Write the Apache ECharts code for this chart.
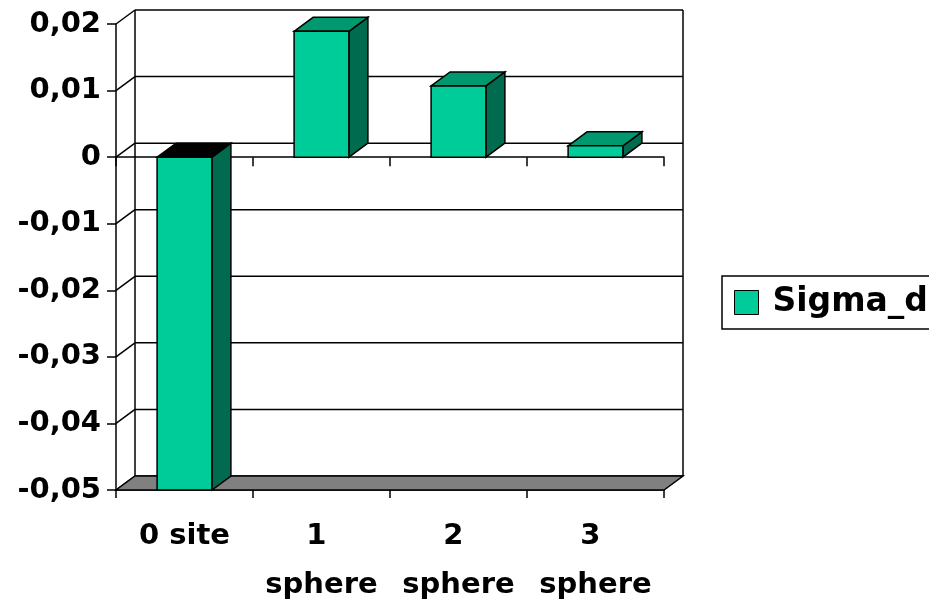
<!DOCTYPE html>
<html>
<head>
<meta charset="utf-8">
<script src="https://cdn.jsdelivr.net/npm/echarts@6/dist/echarts.min.js"></script>
<style>
  html, body { margin: 0; padding: 0; background: #ffffff; }
  #chart { width: 929px; height: 603px; }
</style>
</head>
<body>
<div id="chart"></div>
<script>
// Categories along the front edge of the 3D floor
const categories = ['0 site', '1 sphere', '2 sphere', '3 sphere'];
// Sigma_d per category
const sigmaD = [-0.05, 0.0189, 0.0107, 0.0017];
// Value-axis ticks (also the back-wall gridlines)
const yTicks = [-0.05, -0.04, -0.03, -0.02, -0.01, 0, 0.01, 0.02];
const seriesName = 'Sigma_d';

// Depth of the pseudo-3D box (screen offset of the back plane)
const DX = 19, DY = -14;
const FRONT = '#00CC99', TOP = '#00996F', SIDE = '#006B4F', FLOOR = '#808080';
const FONT = "'DejaVu Sans', 'Liberation Sans', Arial, sans-serif";
const edge = { stroke: '#000', lineWidth: 1.5 };

const yMin = yTicks[0], yMax = yTicks[yTicks.length - 1];

function fmt(v) {
  const r = Math.round(v * 100) / 100;
  if (r === 0) return '0';
  return r.toFixed(2).replace('.', ',');
}

const chart = echarts.init(document.getElementById('chart'), null, { renderer: 'canvas' });

const tickStyle = { color: '#000', width: 1.5 };

chart.setOption({
  animation: false,
  backgroundColor: '#fff',
  grid: { left: 116, top: 24, width: 548, height: 466, containLabel: false, outerBoundsMode: 'none' },
  legend: {
    left: 722, top: 276,
    padding: [10, 40, 10, 12],
    itemWidth: 24, itemHeight: 24,
    borderColor: '#000', borderWidth: 1.5,
    selectedMode: false,
    textStyle: { fontFamily: FONT, fontWeight: 'bold', fontSize: 33, color: '#000', padding: [0, 0, 0, 9] },
    data: [{ name: seriesName, icon: 'rect', itemStyle: { color: FRONT, borderColor: '#000', borderWidth: 1 } }]
  },
  xAxis: [
    {
      type: 'category', data: categories, position: 'bottom', boundaryGap: true,
      axisLine: { show: true, onZero: false, lineStyle: tickStyle },
      axisTick: { show: true, length: 8, lineStyle: tickStyle },
      axisLabel: {
        interval: 0, color: '#000', fontFamily: FONT, fontWeight: 'bold', fontSize: 29,
        lineHeight: 49, margin: 22, width: 125, overflow: 'break'
      },
      splitLine: { show: false }
    },
    {
      type: 'category', data: categories, position: 'bottom', boundaryGap: true,
      axisLine: { show: true, onZero: true, lineStyle: tickStyle },
      axisTick: { show: true, length: 9, lineStyle: tickStyle },
      axisLabel: { show: false },
      splitLine: { show: false }
    }
  ],
  yAxis: {
    type: 'value', min: yMin, max: yMax, interval: 0.01,
    axisLine: { show: true, lineStyle: tickStyle },
    axisTick: { show: true, length: 9, lineStyle: tickStyle },
    axisLabel: {
      color: '#000', fontFamily: FONT, fontWeight: 'bold', fontSize: 29, margin: 15,
      padding: [6, 0, 0, 0],
      formatter: fmt
    },
    splitLine: { show: false }
  },
  series: [
    // Back wall, left side wall gridlines and wall edges
    {
      type: 'custom', name: 'wall', z: 1, silent: true,
      data: yTicks.map(v => [0, v]),
      renderItem(params, api) {
        const cs = params.coordSys;
        const y = api.coord([0, api.value(1)])[1];
        const L = cs.x, R = cs.x + cs.width;
        const children = [
          { type: 'line', shape: { x1: L, y1: y, x2: L + DX, y2: y + DY }, style: edge },
          { type: 'line', shape: { x1: L + DX, y1: y + DY, x2: R + DX, y2: y + DY }, style: edge }
        ];
        if (params.dataIndex === 0) {
          const yt = api.coord([0, yMax])[1], yb = api.coord([0, yMin])[1];
          children.push(
            { type: 'line', shape: { x1: L + DX, y1: yt + DY, x2: L + DX, y2: yb + DY }, style: edge },
            { type: 'line', shape: { x1: R + DX, y1: yt + DY, x2: R + DX, y2: yb + DY }, style: edge }
          );
        }
        return { type: 'group', children };
      }
    },
    // Grey floor at the axis minimum
    {
      type: 'custom', name: 'floor', z: 2, silent: true,
      data: [[0, yMin]],
      renderItem(params, api) {
        const cs = params.coordSys;
        const y = api.coord([0, api.value(1)])[1];
        const L = cs.x, R = cs.x + cs.width;
        return {
          type: 'polygon',
          shape: { points: [[L, y], [R, y], [R + DX, y + DY], [L + DX, y + DY]] },
          style: Object.assign({ fill: FLOOR }, edge)
        };
      }
    },
    // 3D columns
    {
      type: 'custom', name: seriesName, z: 3,
      itemStyle: { color: FRONT },
      data: sigmaD.map((v, i) => [i, v]),
      renderItem(params, api) {
        const idx = api.value(0);
        const v = Math.max(yMin, Math.min(yMax, api.value(1)));
        const c = api.coord([idx, 0]);
        const bw = api.size([1, 0])[0] * 0.4;
        const x0 = c[0] - bw / 2, x1 = x0 + bw;
        const y0 = c[1];
        const yv = api.coord([idx, v])[1];
        const yTop = Math.min(y0, yv), yBot = Math.max(y0, yv);
        const topFill = v < 0 ? '#000' : TOP;
        return {
          type: 'group',
          children: [
            {
              type: 'polygon',
              shape: { points: [[x1, yTop], [x1 + DX, yTop + DY], [x1 + DX, yBot + DY], [x1, yBot]] },
              style: Object.assign({ fill: SIDE }, edge)
            },
            {
              type: 'polygon',
              shape: { points: [[x0, yTop], [x0 + DX, yTop + DY], [x1 + DX, yTop + DY], [x1, yTop]] },
              style: Object.assign({ fill: topFill }, edge)
            },
            {
              type: 'rect',
              shape: { x: x0, y: yTop, width: bw, height: yBot - yTop },
              style: Object.assign({ fill: FRONT }, edge)
            }
          ]
        };
      }
    }
  ]
});
</script>
</body>
</html>
